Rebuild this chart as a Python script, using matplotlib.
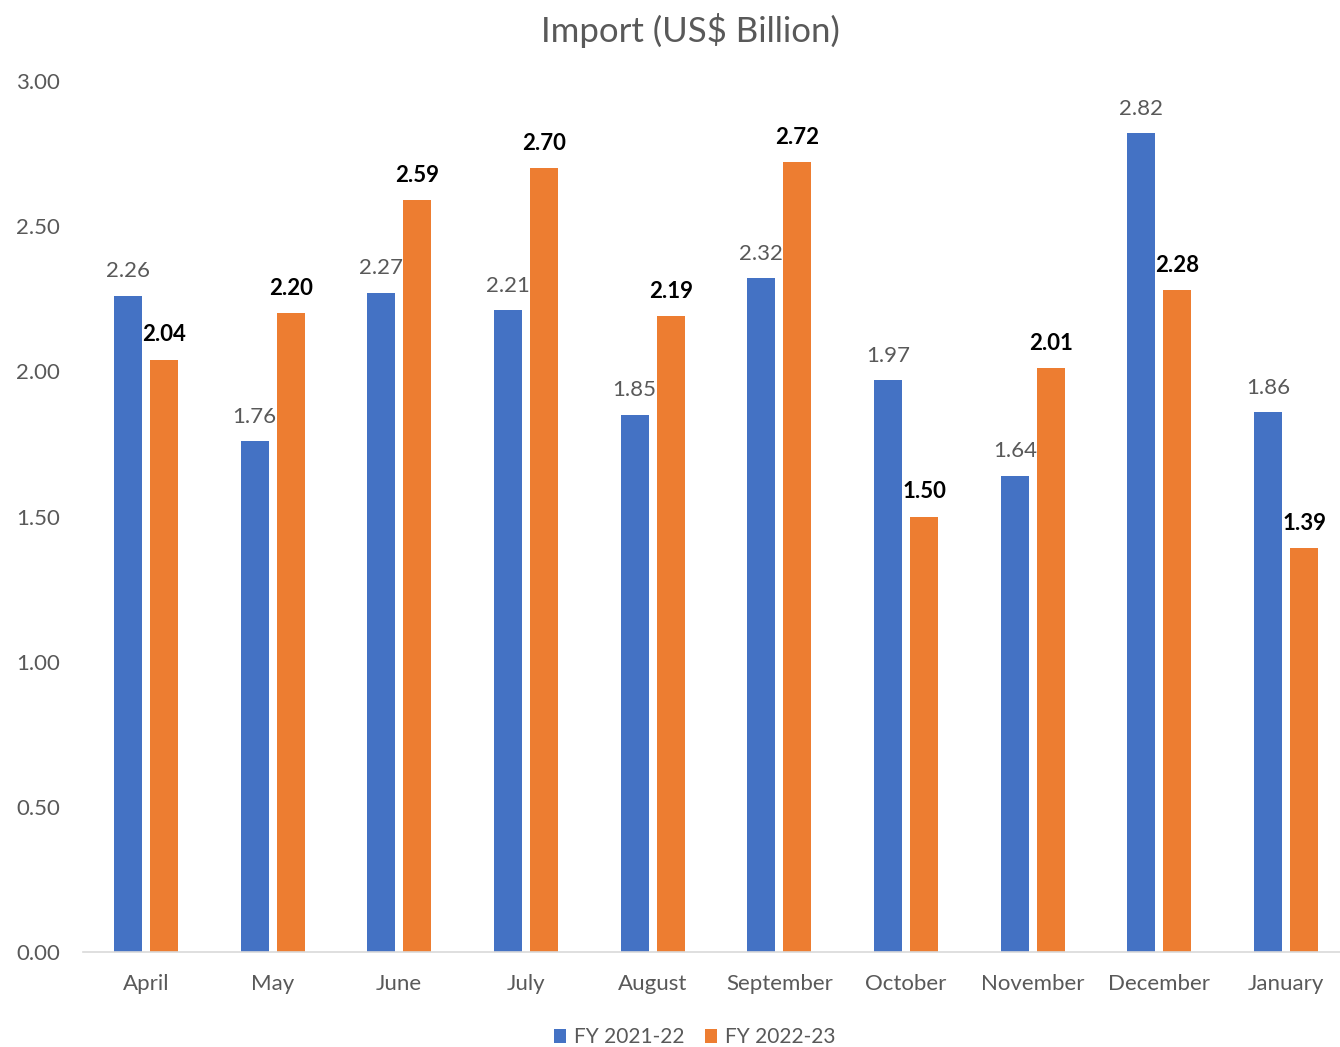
import matplotlib
matplotlib.use("Agg")
import matplotlib.pyplot as plt
import numpy as np

months = ["April", "May", "June", "July", "August", "September",
          "October", "November", "December", "January"]
fy_2122 = [2.26, 1.76, 2.27, 2.21, 1.85, 2.32, 1.97, 1.64, 2.82, 1.86]
fy_2223 = [2.04, 2.20, 2.59, 2.70, 2.19, 2.72, 1.50, 2.01, 2.28, 1.39]
yticks = [0.0, 0.5, 1.0, 1.5, 2.0, 2.5, 3.0]

BLUE = "#4472C4"
ORANGE = "#ED7D31"
GREY = "#595959"

plt.rcParams["font.family"] = ["Lato", "DejaVu Sans"]

fig = plt.figure(figsize=(13.4, 10.47), dpi=100)
ax = fig.add_axes([0.0616, 0.0907, 0.9455, 0.8319])

x = np.arange(len(months))
w = 0.221
off = 0.142
ax.bar(x - off, fy_2122, w, color=BLUE, label="FY 2021-22")
ax.bar(x + off, fy_2223, w, color=ORANGE, label="FY 2022-23")

for xi, v in zip(x, fy_2122):
    ax.text(xi - off, v + 0.05, f"{v:.2f}", ha="center", va="bottom",
            fontsize=16, color=GREY)
for xi, v in zip(x, fy_2223):
    ax.text(xi + off, v + 0.05, f"{v:.2f}", ha="center", va="bottom",
            fontsize=16, color="black", fontweight="bold")

ax.set_xlim(-0.5, len(months) - 0.5)
ax.set_ylim(0, 3.0)
ax.set_yticks(yticks)
ax.set_yticklabels([f"{t:.2f}" for t in yticks])
ax.set_xticks(x)
ax.set_xticklabels(months)
ax.tick_params(axis="both", length=0, labelsize=16, colors=GREY)
ax.tick_params(axis="x", pad=16)
ax.tick_params(axis="y", pad=16)
for s in ["top", "right", "left"]:
    ax.spines[s].set_visible(False)
ax.spines["bottom"].set_color("#D9D9D9")
ax.spines["bottom"].set_linewidth(1.2)

fig.suptitle("Import (US$ Billion)", x=0.515, y=0.988, fontsize=25, color=GREY)

ax.legend(loc="upper center", bbox_to_anchor=(0.483, -0.072), ncol=2,
          frameon=False, fontsize=15, handlelength=0.6, handleheight=0.6,
          columnspacing=1.0, handletextpad=0.35, labelcolor=GREY,
          borderaxespad=0.2)

fig.savefig("out.png", dpi=100)
